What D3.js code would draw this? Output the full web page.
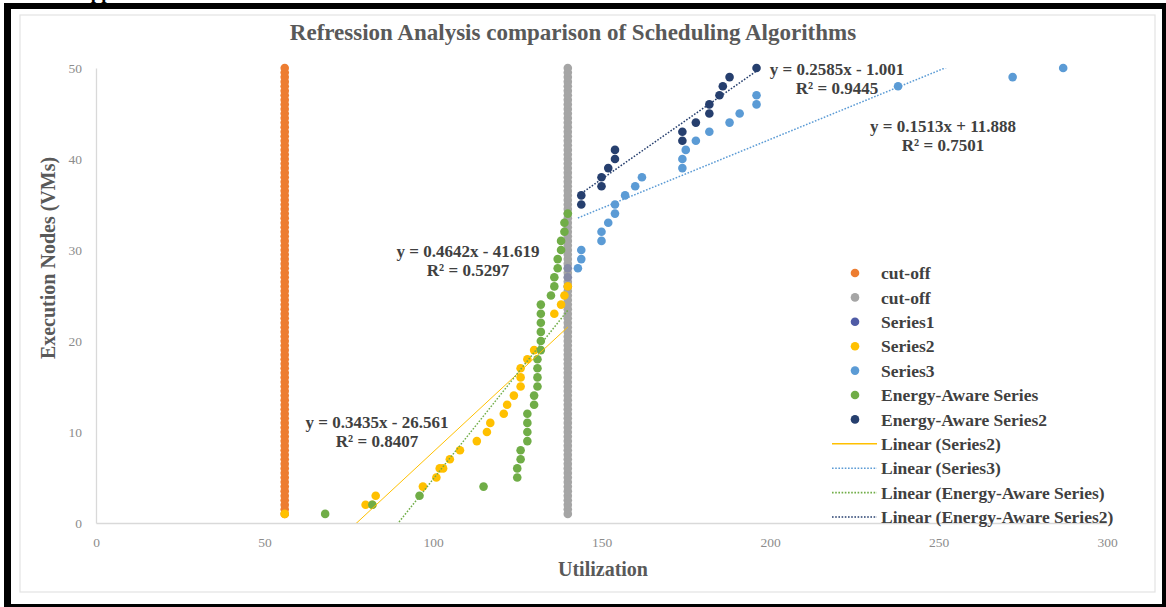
<!DOCTYPE html>
<html>
<head>
<meta charset="utf-8">
<script src="https://cdn.jsdelivr.net/npm/d3@7"></script>
<style>
  body { margin: 0; background: #fff; }
  svg { display: block; }
</style>
</head>
<body>
<svg id="chart" width="1166" height="607"></svg>
<script>
// ---- data -------------------------------------------------------------
const xTickValues = [0, 50, 100, 150, 200, 250, 300];
const yTickValues = [0, 10, 20, 30, 40, 50];

// the two cut-off columns share the same node counts
const cutoffLevels = [1, 1.5, 2, 2.5, 3, 3.5, 4, 4.5, 5, 5.5, 6, 6.5, 7, 7.5, 8, 8.5, 9, 9.5,
  10, 10.5, 11, 11.5, 12, 12.5, 13, 13.5, 14, 14.5, 15, 15.5, 16, 16.5, 17, 17.5, 18, 18.5,
  19, 19.5, 20, 20.5, 21, 21.5, 22, 22.5, 23, 23.5, 24, 24.5, 25, 25.5, 26, 26.5, 27, 27.5,
  28, 28.5, 29, 29.5, 30, 30.5, 31, 31.5, 32, 32.5, 33, 33.5, 34, 34.5, 35, 35.5, 36, 36.5,
  37, 37.5, 38, 38.5, 39, 39.5, 40, 40.5, 41, 41.5, 42, 42.5, 43, 43.5, 44, 44.5, 45, 45.5,
  46, 46.5, 47, 47.5, 48, 48.5, 49, 49.5, 50];
const cutoffLowUtil = 56;
const cutoffHighUtil = 140;

const series1 = [[140, 26], [140, 27], [140, 28]];

const series2 = [[56, 1], [80, 2], [82, 2], [83, 3], [97, 4], [101, 5], [102, 6], [103, 6],
  [105, 7], [108, 8], [113, 9], [116, 10], [117, 11], [121, 12], [122, 13], [124, 14],
  [126, 15], [126, 16], [126, 17], [128, 18], [130, 19], [136, 23], [138, 24], [139, 25],
  [140, 26]];

const series3 = [[143, 28], [144, 29], [144, 30], [150, 31], [150, 32], [152, 33], [154, 34],
  [154, 35], [157, 36], [160, 37], [162, 38], [174, 39], [174, 40], [175, 41], [178, 42],
  [182, 43], [188, 44], [191, 45], [196, 46], [196, 47], [238, 48], [272, 49], [287, 50]];

const energyAware = [[68, 1], [82, 2], [96, 3], [115, 4], [125, 5], [125, 6], [126, 7],
  [126, 8], [128, 9], [128, 10], [128, 11], [128, 12], [130, 13], [130, 14], [131, 15],
  [131, 16], [131, 17], [131, 18], [132, 19], [132, 20], [132, 21], [132, 22], [132, 23],
  [132, 24], [135, 25], [136, 26], [136, 27], [137, 28], [137, 29], [138, 30], [138, 31],
  [139, 32], [139, 33], [140, 34]];

const energyAware2 = [[144, 35], [144, 36], [150, 37], [150, 38], [152, 39], [154, 40],
  [154, 41], [174, 42], [174, 43], [178, 44], [182, 45], [182, 46], [185, 47], [186, 48],
  [188, 49], [196, 50]];

// linear fits, in legend order: Series2, Series3, Energy-Aware Series, Energy-Aware Series2
const trendNames = ["Linear (Series2)", "Linear (Series3)", "Linear (Energy-Aware Series)", "Linear (Energy-Aware Series2)"];
const trendSlopes = [0.3435, 0.1513, 0.4642, 0.2585];
const trendIntercepts = [-26.561, 11.888, -41.619, -1.001];
const trendR2 = ["0.8407", "0.7501", "0.5297", "0.9445"];

// ---- styling ------------------------------------------------------------
const serif = "'Liberation Serif', 'Times New Roman', serif";
const C = {
  orange: "#ED7D31", gray: "#A5A5A5", s1: "#4F5BA6", s2: "#FFC000",
  s3: "#5B9BD5", ea: "#70AD47", ea2: "#263F6E"
};

const svg = d3.select("#chart");
const W = 1166, H = 607;
const plot = { left: 96, right: 1107, top: 68, bottom: 523 };

const x = d3.scaleLinear().domain([0, 300]).range([plot.left, plot.right]);
const y = d3.scaleLinear().domain([0, 50]).range([plot.bottom, plot.top]);

// page background and the heading fragment above the frame
svg.append("rect").attr("width", W).attr("height", H).attr("fill", "#fff");
svg.append("text").attr("x", 77).attr("y", -1)
  .attr("font-family", serif).attr("font-weight", "bold").attr("font-size", 19)
  .attr("fill", "#000").text("Applications");

// black frame around the figure
const frame = svg.append("g").attr("fill", "#000");
frame.append("rect").attr("x", 4).attr("y", 3).attr("width", 7).attr("height", H - 3);
frame.append("rect").attr("x", 4).attr("y", 3).attr("width", W - 4).attr("height", 6);
frame.append("rect").attr("x", 1162).attr("y", 3).attr("width", 4).attr("height", H - 3);
frame.append("rect").attr("x", 4).attr("y", 604).attr("width", W - 4).attr("height", 3);

// chart area outline
svg.append("rect").attr("x", 20).attr("y", 15).attr("width", 1135).attr("height", 577)
  .attr("fill", "none").attr("stroke", "#e3e3e3").attr("stroke-width", 1.2);

// title
svg.append("text").attr("x", 573).attr("y", 40).attr("text-anchor", "middle")
  .attr("font-family", serif).attr("font-weight", "bold").attr("font-size", 23)
  .attr("fill", "#595959")
  .text("Refression Analysis comparison of Scheduling Algorithms");

// axes
const xAxis = svg.append("g").attr("transform", `translate(0,${plot.bottom})`)
  .call(d3.axisBottom(x).tickValues(xTickValues).tickSize(0).tickPadding(14));
const yAxis = svg.append("g").attr("transform", `translate(${plot.left},0)`)
  .call(d3.axisLeft(y).tickValues(yTickValues).tickSize(0).tickPadding(14));
[xAxis, yAxis].forEach(a => {
  a.select(".domain").attr("stroke", "#d9d9d9").attr("stroke-width", 1.3);
  a.selectAll("text").attr("font-family", serif).attr("font-size", 13.5).attr("fill", "#8c8c8c");
});

// axis titles
svg.append("text").attr("x", 603).attr("y", 576).attr("text-anchor", "middle")
  .attr("font-family", serif).attr("font-weight", "bold").attr("font-size", 20)
  .attr("fill", "#595959").text("Utilization");
svg.append("text")
  .attr("transform", "translate(55,258) rotate(-90)").attr("text-anchor", "middle")
  .attr("font-family", serif).attr("font-weight", "bold").attr("font-size", 20)
  .attr("fill", "#595959").text("Execution Nodes (VMs)");

// ---- markers --------------------------------------------------------------
const R = 4.3;
function dots(points, color, opacity) {
  svg.append("g").selectAll("circle").data(points).join("circle")
    .attr("cx", d => x(d[0])).attr("cy", d => y(d[1])).attr("r", R)
    .attr("fill", color).attr("fill-opacity", opacity == null ? 1 : opacity);
}
dots(cutoffLevels.map(v => [cutoffLowUtil, v]), C.orange);
dots(cutoffLevels.map(v => [cutoffHighUtil, v]), C.gray);
dots(series1, C.s1, 0.35);
dots(series2, C.s2);
dots(series3, C.s3);
dots(energyAware, C.ea);
dots(energyAware2, C.ea2);

// ---- trend lines ----------------------------------------------------------
svg.append("clipPath").attr("id", "plot-clip").append("rect")
  .attr("x", plot.left).attr("y", plot.top)
  .attr("width", plot.right - plot.left).attr("height", plot.bottom - plot.top);

const trendSources = [series2, series3, energyAware, energyAware2];
const trendColors = [C.s2, C.s3, C.ea, C.ea2];
const trendDash = [null, "1.6,1.6", "1.6,1.6", "1.6,1.6"];
const trendG = svg.append("g").attr("clip-path", "url(#plot-clip)");
trendSources.forEach((pts, i) => {
  const [x0, x1] = d3.extent(pts, d => d[0]);
  const f = v => trendSlopes[i] * v + trendIntercepts[i];
  trendG.append("line")
    .attr("x1", x(x0)).attr("y1", y(f(x0)))
    .attr("x2", x(x1)).attr("y2", y(f(x1)))
    .attr("stroke", trendColors[i]).attr("stroke-width", i === 0 ? 1 : 1.5)
    .attr("stroke-dasharray", trendDash[i]);
});

// equation labels: [centre x, baseline y] in pixels
const labelSpots = [[377, 428], [943, 132], [468, 257], [837, 75]];
trendSlopes.forEach((m, i) => {
  const b = trendIntercepts[i];
  const g = svg.append("text").attr("text-anchor", "middle")
    .attr("font-family", serif).attr("font-weight", "bold").attr("font-size", 17)
    .attr("fill", "#404040");
  g.append("tspan").attr("x", labelSpots[i][0]).attr("y", labelSpots[i][1])
    .text(`y = ${m}x ${b < 0 ? "-" : "+"} ${Math.abs(b)}`);
  g.append("tspan").attr("x", labelSpots[i][0]).attr("y", labelSpots[i][1] + 19)
    .text(`R² = ${trendR2[i]}`);
});

// ---- legend ---------------------------------------------------------------
const legendMarkers = [
  ["cut-off", C.orange], ["cut-off", C.gray], ["Series1", C.s1], ["Series2", C.s2],
  ["Series3", C.s3], ["Energy-Aware Series", C.ea], ["Energy-Aware Series2", C.ea2]
];
const legend = svg.append("g").attr("font-family", serif).attr("font-weight", "bold")
  .attr("font-size", 17.5).attr("fill", "#404040");
const rowY = i => 273 + i * 24.4;
legendMarkers.forEach(([name, color], i) => {
  legend.append("circle").attr("cx", 855).attr("cy", rowY(i)).attr("r", R).attr("fill", color);
  legend.append("text").attr("x", 881).attr("y", rowY(i)).attr("dy", "0.35em").text(name);
});
trendNames.forEach((name, i) => {
  const yy = rowY(i + 7);
  legend.append("line").attr("x1", 832).attr("x2", 877).attr("y1", yy).attr("y2", yy)
    .attr("stroke", trendColors[i]).attr("stroke-width", i === 0 ? 1.5 : 1.6)
    .attr("stroke-dasharray", trendDash[i]);
  legend.append("text").attr("x", 881).attr("y", yy).attr("dy", "0.35em").text(name);
});
</script>
</body>
</html>
